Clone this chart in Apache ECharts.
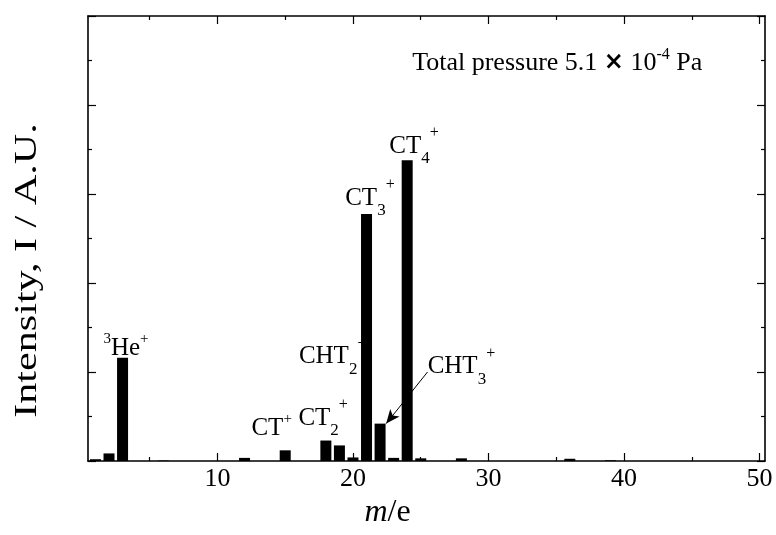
<!DOCTYPE html>
<html>
<head>
<meta charset="utf-8">
<script src="https://cdn.jsdelivr.net/npm/echarts@6/dist/echarts.min.js"></script>
<style>
html,body{margin:0;padding:0;background:#fff;}
#main{width:776px;height:535px;}
</style>
</head>
<body>
<div id="main"></div>
<script>
// ---- data ----
const massNumbers = [1, 2, 3, 6, 12, 15, 18, 19, 20, 21, 22, 23, 24, 25, 28, 36, 39];
const intensities = [0.02, 0.085, 1.16, 0.005, 0.035, 0.12, 0.23, 0.175, 0.04, 2.775, 0.42, 0.035, 3.38, 0.03, 0.03, 0.025, 0.008];
const xTickValues = [10, 20, 30, 40, 50];
const xMinorTickValues = [5, 15, 25, 35, 45];
const ionLabelTexts = ['{sup|3}He{sup|+}', 'CT{sup|+}', 'CT{sub|2}{supHi|+}', 'CHT{sub|2}{supHi|+}', 'CT{sub|3}{supHi|+}', 'CT{sub|4}{supHi|+}', 'CHT{sub|3}{supHi|+}'];
const pressureText = 'Total pressure 5.1 {x|×} 10{sup|-4} Pa';
const xAxisTitle = '{i|m}/e';
const yAxisTitle = 'Intensity, I / A.U.';

// ---- chart ----
const FONT = 'Liberation Serif';
const chart = echarts.init(document.getElementById('main'), null, {renderer: 'canvas'});
const seriesData = massNumbers.map((m, i) => [m, intensities[i]]);
const X_MIN = 0.45, X_MAX = 50.4;
const lineStyle = {color: '#000', width: 1.6};

const option = {
  animation: false,
  backgroundColor: '#fff',
  grid: {left: 88, right: 11, top: 16, bottom: 74},
  xAxis: [
    {
      type: 'value', position: 'bottom', min: X_MIN, max: X_MAX,
      axisLine: {show: true, lineStyle: lineStyle, onZero: false},
      axisTick: {show: true, inside: true, length: 8, customValues: xTickValues, lineStyle: {color: '#000', width: 1.2}},
      axisLabel: {show: true, customValues: xTickValues, color: '#000', fontFamily: FONT, fontSize: 26, margin: 5},
      splitLine: {show: false},
      name: xAxisTitle, nameLocation: 'middle', nameGap: 23,
      nameTextStyle: {color: '#000', fontFamily: FONT, fontSize: 32, padding: [0, 78, 0, 0],
        rich: {i: {fontStyle: 'italic', fontFamily: FONT, fontSize: 32, color: '#000'}}}
    },
    {
      type: 'value', position: 'bottom', min: X_MIN, max: X_MAX,
      axisLine: {show: false, onZero: false},
      axisTick: {show: true, inside: true, length: 4, customValues: xMinorTickValues, lineStyle: {color: '#000', width: 1.2}},
      axisLabel: {show: false}, splitLine: {show: false}
    },
    {
      type: 'value', position: 'top', min: X_MIN, max: X_MAX,
      axisLine: {show: true, lineStyle: lineStyle, onZero: false},
      axisTick: {show: true, inside: true, length: 8, customValues: xTickValues, lineStyle: {color: '#000', width: 1.2}},
      axisLabel: {show: false}, splitLine: {show: false}
    },
    {
      type: 'value', position: 'top', min: X_MIN, max: X_MAX,
      axisLine: {show: false, onZero: false},
      axisTick: {show: true, inside: true, length: 4, customValues: xMinorTickValues, lineStyle: {color: '#000', width: 1.2}},
      axisLabel: {show: false}, splitLine: {show: false}
    }
  ],
  yAxis: [
    {
      type: 'value', position: 'left', min: 0, max: 5, interval: 1,
      axisLine: {show: true, lineStyle: lineStyle, onZero: false},
      axisTick: {show: true, inside: true, length: 8, lineStyle: {color: '#000', width: 1.2}},
      minorTick: {show: true, splitNumber: 2, length: 4, lineStyle: {color: '#000', width: 1.2}},
      axisLabel: {show: false}, splitLine: {show: false}
    },
    {
      type: 'value', position: 'right', min: 0, max: 5, interval: 1,
      axisLine: {show: true, lineStyle: lineStyle, onZero: false},
      axisTick: {show: true, inside: true, length: 8, lineStyle: {color: '#000', width: 1.2}},
      minorTick: {show: true, splitNumber: 2, length: 4, lineStyle: {color: '#000', width: 1.2}},
      axisLabel: {show: false}, splitLine: {show: false}
    }
  ],
  series: [
    {
      type: 'bar', xAxisIndex: 0, yAxisIndex: 0,
      data: seriesData, barWidth: 11,
      itemStyle: {color: '#000'},
      z: 3,
      markLine: {
        silent: true, animation: false,
        symbol: ['none', 'arrow'], symbolSize: [9, 14],
        label: {show: false},
        lineStyle: {color: '#000', width: 1, type: 'solid'},
        data: [[{coord: [25.5, 1.0]}, {coord: [22.45, 0.42]}]]
      }
    }
  ]
};
chart.setOption(option);

// ---- annotations (placed through the chart's own coordinate conversion) ----
const labelAnchors = [[3.25, 1.26], [14.0, 0.37], [17.8, 0.48], [18.5, 1.17], [21.25, 2.955], [24.5, 3.54], [28.0, 1.06]];
const stacked = [false, false, true, true, true, true, true];
const richStyles = {
  sup: {fontSize: 15, fontFamily: FONT, fill: '#000', verticalAlign: 'top', lineHeight: 19},
  supHi: {fontSize: 16, fontFamily: FONT, fill: '#000', verticalAlign: 'top', lineHeight: 21},
  sub: {fontSize: 17, fontFamily: FONT, fill: '#000', verticalAlign: 'bottom', lineHeight: 17},
  x: {fontSize: 24, fontFamily: 'DejaVu Sans', fontWeight: 'bold', fill: '#000', lineHeight: 30},
  i: {fontSize: 25, fontFamily: FONT, fontStyle: 'italic', fill: '#000'}
};
const graphics = ionLabelTexts.map((t, k) => {
  const p = chart.convertToPixel({gridIndex: 0}, labelAnchors[k]);
  return {
    type: 'text', x: p[0], y: p[1], z: 1,
    style: {
      text: t, rich: richStyles, fontFamily: FONT, fontSize: 25, fill: '#000',
      lineHeight: stacked[k] ? 42 : 34,
      align: 'center', verticalAlign: 'middle', textAlign: 'center', textVerticalAlign: 'middle'
    }
  };
});
const pp = chart.convertToPixel({gridIndex: 0}, [35.07, 4.47]);
graphics.push({
  type: 'text', x: pp[0], y: pp[1], z: 1,
  style: {
    text: pressureText, rich: Object.assign({}, richStyles, {sup: {fontSize: 16, fontFamily: FONT, fill: '#000', verticalAlign: 'top', lineHeight: 16}}),
    fontFamily: FONT, fontSize: 26, fill: '#000',
    lineHeight: 32,
    align: 'center', verticalAlign: 'middle', textAlign: 'center', textVerticalAlign: 'middle'
  }
});
// y axis title, centred on the left margin
const yTop = chart.convertToPixel({yAxisIndex: 0}, 5);
const yBot = chart.convertToPixel({yAxisIndex: 0}, 0);
graphics.push({
  type: 'text', x: 28, y: (yTop + yBot) / 2 + 32, rotation: Math.PI / 2, scaleX: 1.36, z: 1,
  style: {
    text: yAxisTitle, fontFamily: FONT, fontSize: 31, fill: '#000',
    align: 'center', verticalAlign: 'middle', textAlign: 'center', textVerticalAlign: 'middle'
  }
});
chart.setOption({graphic: graphics});
</script>
</body>
</html>
